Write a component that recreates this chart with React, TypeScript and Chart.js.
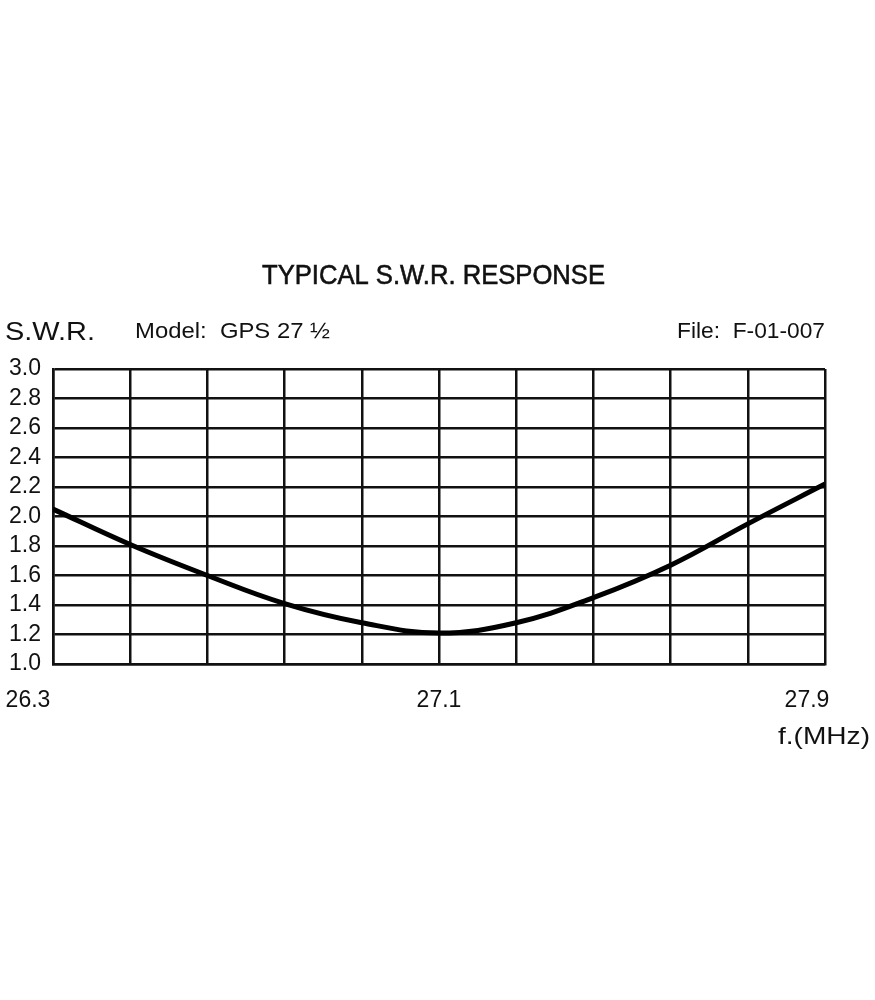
import React, { useEffect, useRef } from "react";
import { Chart, registerables } from "chart.js";

Chart.register(...registerables);

const freqs = [26.3, 26.46, 26.62, 26.78, 26.94, 27.1, 27.26, 27.42, 27.58, 27.74, 27.9];
const swr = [2.05, 1.81, 1.6, 1.41, 1.28, 1.21, 1.28, 1.45, 1.67, 1.95, 2.22];
const yTicks = [1.0, 1.2, 1.4, 1.6, 1.8, 2.0, 2.2, 2.4, 2.6, 2.8, 3.0];
const xLabels = [26.3, 27.1, 27.9];
const title = "TYPICAL S.W.R. RESPONSE";
const yTitle = "S.W.R.";
const modelText = "Model:  GPS 27 \u00BD";
const fileText = "File:  F-01-007";
const xTitle = "f.(MHz)";

const FONT = "'Liberation Sans', Arial, sans-serif";

function fitText(ctx: CanvasRenderingContext2D, text: string, x: number, y: number, w: number, size: number, stroke = 0) {
  ctx.save();
  ctx.font = `normal ${size}px ${FONT}`;
  ctx.textBaseline = "alphabetic";
  ctx.textAlign = "left";
  const m = ctx.measureText(text).width;
  ctx.translate(x, y);
  ctx.scale(w / m, 1);
  ctx.fillText(text, 0, 0);
  if (stroke > 0) {
    ctx.strokeStyle = "#111";
    ctx.lineWidth = stroke;
    ctx.strokeText(text, 0, 0);
  }
  ctx.restore();
}

const textPlugin = {
  id: "textPlugin",
  afterDraw(chart: any) {
    const ctx = chart.ctx as CanvasRenderingContext2D;
    const xs = chart.scales.x;
    ctx.fillStyle = "#111";
    fitText(ctx, title, 262, 284, 343, 28, 0.6);
    fitText(ctx, yTitle, 5, 340, 90, 26);
    fitText(ctx, modelText, 135, 338, 195, 22);
    fitText(ctx, fileText, 677, 338, 148, 22);
    fitText(ctx, xTitle, 778, 744, 92, 24);
    const offsets = [-25, 0, -18];
    xLabels.forEach((v, i) => {
      const px = xs.getPixelForValue(v) + offsets[i];
      ctx.save();
      ctx.font = `normal 23px ${FONT}`;
      ctx.textAlign = "center";
      ctx.textBaseline = "alphabetic";
      ctx.fillText(String(v.toFixed(1)), px, 707);
      ctx.restore();
    });
  },
};

export default function App() {
  const ref = useRef<HTMLCanvasElement>(null);
  useEffect(() => {
    if (!ref.current) return;
    const chart = new Chart(ref.current, {
      type: "line",
      data: {
        datasets: [
          {
            data: freqs.map((f, i) => ({ x: f, y: swr[i] })),
            borderColor: "#000",
            borderWidth: 5,
            pointRadius: 0,
            tension: 0.4,
            fill: false,
          },
        ],
      },
      options: {
        animation: false,
        responsive: false,
        devicePixelRatio: 1,
        layout: { padding: { left: 0, top: 369, right: 50, bottom: 336 } },
        plugins: { legend: { display: false }, tooltip: { enabled: false } },
        scales: {
          x: {
            type: "linear",
            min: 26.3,
            max: 27.9,
            afterBuildTicks: (s: any) => {
              s.ticks = freqs.map((v) => ({ value: v }));
            },
            ticks: { display: false, autoSkip: false },
            grid: { color: "#111", lineWidth: 2.5, drawTicks: false },
            border: { color: "#111", width: 2.5 },
          },
          y: {
            type: "linear",
            min: 1,
            max: 3,
            afterBuildTicks: (s: any) => {
              s.ticks = yTicks.map((v) => ({ value: v }));
            },
            afterFit: (s: any) => {
              s.width = 53;
            },
            ticks: {
              color: "#111",
              padding: 12,
              autoSkip: false,
              font: { family: FONT, size: 23 },
              callback: (v: any) => Number(v).toFixed(1),
            },
            grid: { color: "#111", lineWidth: 2.5, drawTicks: false },
            border: { color: "#111", width: 2.5 },
          },
        },
      },
      plugins: [textPlugin],
    });
    return () => chart.destroy();
  }, []);
  return (
    <div style={{ position: "absolute", left: 0, top: 0, width: 875, height: 1000, background: "#fff" }}>
      <canvas ref={ref} width={875} height={1000} style={{ width: 875, height: 1000 }} />
    </div>
  );
}
